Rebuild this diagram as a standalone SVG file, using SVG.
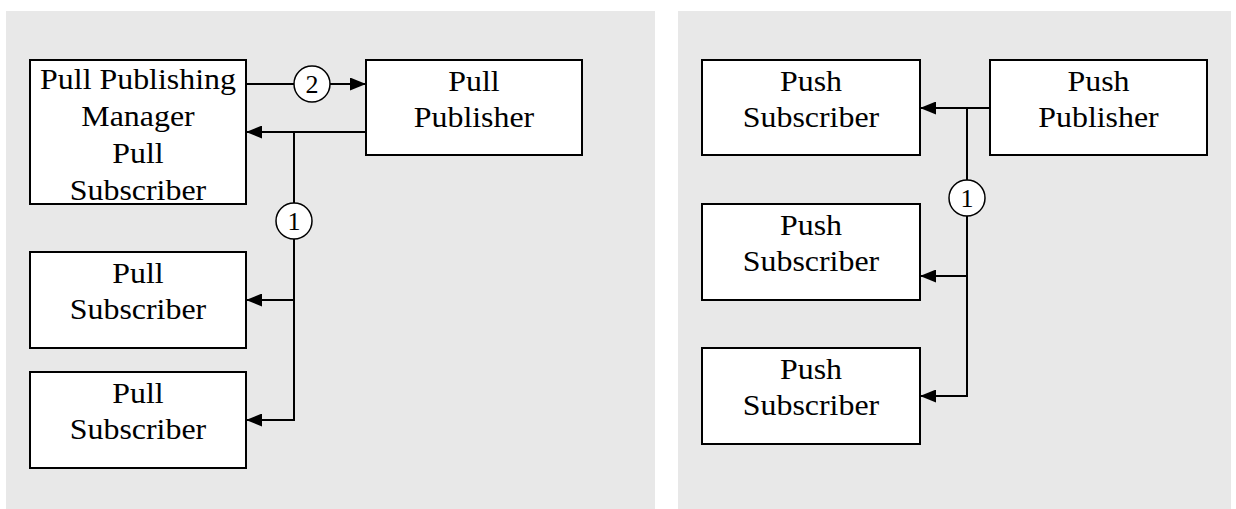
<svg xmlns="http://www.w3.org/2000/svg" width="1236" height="509" viewBox="0 0 1236 509">
<style>
.bg{fill:#e8e8e8}
.box{fill:#fff;stroke:#000;stroke-width:2}
.t{font-family:"Liberation Serif",serif;font-size:29px;fill:#000;text-anchor:middle}
.c{fill:#fff;stroke:#000;stroke-width:1.5}
.n{font-family:"Liberation Serif",serif;font-size:26px;fill:#000;text-anchor:middle}
.ln{fill:none;stroke:#000;stroke-width:2}
</style>
<defs>
<marker id="ah" markerWidth="16" markerHeight="13" refX="16" refY="6.5" orient="auto" markerUnits="userSpaceOnUse">
<path d="M0,0 L16,6.5 L0,13 Z" fill="#000"/>
</marker>
</defs>
<rect class="bg" x="6" y="11" width="649" height="498"/>
<rect class="bg" x="678" y="11" width="553" height="498"/>

<g id="connectors">
<line class="ln" x1="246" y1="84" x2="294" y2="84"/>
<line class="ln" x1="330" y1="84" x2="366" y2="84" marker-end="url(#ah)"/>
<line class="ln" x1="366" y1="132" x2="246" y2="132" marker-end="url(#ah)"/>
<polyline class="ln" points="294,132 294,420 246,420" marker-end="url(#ah)"/>
<line class="ln" x1="294" y1="300" x2="246" y2="300" marker-end="url(#ah)"/>
<line class="ln" x1="990" y1="108" x2="920" y2="108" marker-end="url(#ah)"/>
<polyline class="ln" points="967,108 967,396 920,396" marker-end="url(#ah)"/>
<line class="ln" x1="967" y1="276" x2="920" y2="276" marker-end="url(#ah)"/>
<g id="label-2"><circle class="c" cx="312" cy="84" r="18"/><text class="n" x="312" y="93">2</text></g>
<g id="label-1-left"><circle class="c" cx="294" cy="221" r="18"/><text class="n" x="294" y="230">1</text></g>
<g id="label-1-right"><circle class="c" cx="967" cy="198" r="18"/><text class="n" x="967" y="207">1</text></g>
</g>

<g id="pull-manager">
<rect class="box" x="30" y="60" width="216" height="144"/>
<g transform="translate(138,0) scale(1.1,1)">
<text class="t" x="0" y="89">Pull Publishing</text>
<text class="t" x="0" y="126">Manager</text>
<text class="t" x="0" y="163">Pull</text>
<text class="t" x="0" y="200">Subscriber</text>
</g>
</g>
<g id="pull-publisher">
<rect class="box" x="366" y="60" width="216" height="95"/>
<g transform="translate(474,0) scale(1.1,1)">
<text class="t" x="0" y="91">Pull</text>
<text class="t" x="0" y="127">Publisher</text>
</g>
</g>
<g id="pull-subscriber-1">
<rect class="box" x="30" y="252" width="216" height="96"/>
<g transform="translate(138,0) scale(1.1,1)">
<text class="t" x="0" y="283">Pull</text>
<text class="t" x="0" y="319">Subscriber</text>
</g>
</g>
<g id="pull-subscriber-2">
<rect class="box" x="30" y="372" width="216" height="96"/>
<g transform="translate(138,0) scale(1.1,1)">
<text class="t" x="0" y="403">Pull</text>
<text class="t" x="0" y="439">Subscriber</text>
</g>
</g>

<g id="push-subscriber-1">
<rect class="box" x="702" y="60" width="218" height="95"/>
<g transform="translate(811,0) scale(1.1,1)">
<text class="t" x="0" y="91">Push</text>
<text class="t" x="0" y="127">Subscriber</text>
</g>
</g>
<g id="push-publisher">
<rect class="box" x="990" y="60" width="217" height="95"/>
<g transform="translate(1098.5,0) scale(1.1,1)">
<text class="t" x="0" y="91">Push</text>
<text class="t" x="0" y="127">Publisher</text>
</g>
</g>
<g id="push-subscriber-2">
<rect class="box" x="702" y="204" width="218" height="96"/>
<g transform="translate(811,0) scale(1.1,1)">
<text class="t" x="0" y="235">Push</text>
<text class="t" x="0" y="271">Subscriber</text>
</g>
</g>
<g id="push-subscriber-3">
<rect class="box" x="702" y="348" width="218" height="96"/>
<g transform="translate(811,0) scale(1.1,1)">
<text class="t" x="0" y="379">Push</text>
<text class="t" x="0" y="415">Subscriber</text>
</g>
</g>
</svg>
